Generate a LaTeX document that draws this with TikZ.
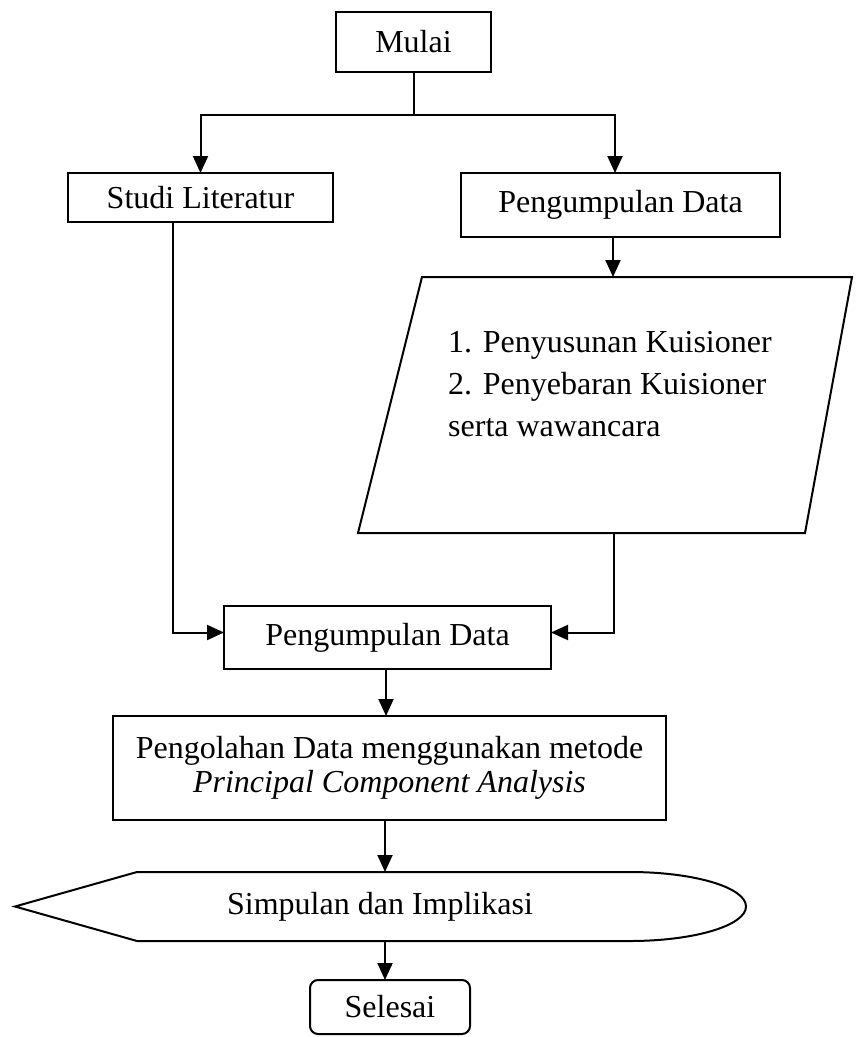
\documentclass[tikz,border=0pt]{standalone}
\usepackage{fontspec}
\setmainfont{Liberation Serif}
\usetikzlibrary{arrows.meta}
\begin{document}
\begin{tikzpicture}[x=1pt,y=1pt,
  every node/.style={font=\fontsize{32}{34}\selectfont},
  box/.style={draw,line width=2pt,rectangle,inner sep=0pt,outer sep=0pt,align=center},
  ln/.style={line width=2pt},
  arr/.style={line width=2pt,-{Triangle[length=17pt,width=15pt]}}]
\useasboundingbox (0,0) rectangle (855,-1037);
% nodes
\node[box,minimum width=155pt,minimum height=60pt] (mulai) at (413.5,-42) {Mulai};
\node[box,minimum width=265pt,minimum height=49pt] (studi) at (200.5,-197.5) {Studi Literatur};
\node[box,minimum width=319pt,minimum height=64pt] (peng1) at (620.5,-205) {Pengumpulan Data};
% parallelogram
\draw[ln,line join=miter] (422,-277) -- (852,-277) -- (805,-533) -- (358,-533) -- cycle;
\coordinate (ptop) at (613,-277);
\coordinate (pbot) at (614,-533);
\node[inner sep=0pt,anchor=north west,align=left,font=\fontsize{32}{42}\selectfont] (ptext) at (448,-331)
  {1. Penyusunan Kuisioner\\2. Penyebaran Kuisioner\\serta wawancara};
\node[box,minimum width=327pt,minimum height=63pt] (peng2) at (387.5,-637.5) {Pengumpulan Data};
\node[box,minimum width=553pt,minimum height=104pt] (olah) at (389.5,-768)
  {Pengolahan Data menggunakan metode\\\textit{Principal Component Analysis}};
% display shape
\draw[ln] (137,-872) -- (630,-872) arc[start angle=90,end angle=-90,x radius=116pt,y radius=34.5pt]
  -- (137,-941) -- (15,-906.5) -- cycle;
\coordinate (dtop) at (385,-872);
\coordinate (dbot) at (385,-941);
\node[inner sep=0pt] (disp) at (380,-906.5) {Simpulan dan Implikasi};
\node[box,rounded corners=8pt,minimum width=160pt,minimum height=54pt] (selesai) at (390,-1007) {Selesai};
% connectors
\coordinate (split) at (413.5,-115);
\draw[ln] (mulai.south) -- (split);
\draw[arr] (split) -| (studi.north);
\draw[arr] (split) -| ([xshift=-5.5pt]peng1.north);
\draw[arr] ([xshift=-7.5pt]peng1.south) -- (ptop);
\draw[arr] ([xshift=-27.5pt]studi.south) |- ([yshift=5pt]peng2.west);
\draw[arr] (pbot) |- ([yshift=5pt]peng2.east);
\draw[arr] ([xshift=-1.5pt]peng2.south) -- ([xshift=-1.5pt]peng2.south |- olah.north);
\draw[arr] ([xshift=-4.5pt]olah.south) -- (dtop);
\draw[arr] (dbot) -- (dbot |- selesai.north);
\end{tikzpicture}
\end{document}
